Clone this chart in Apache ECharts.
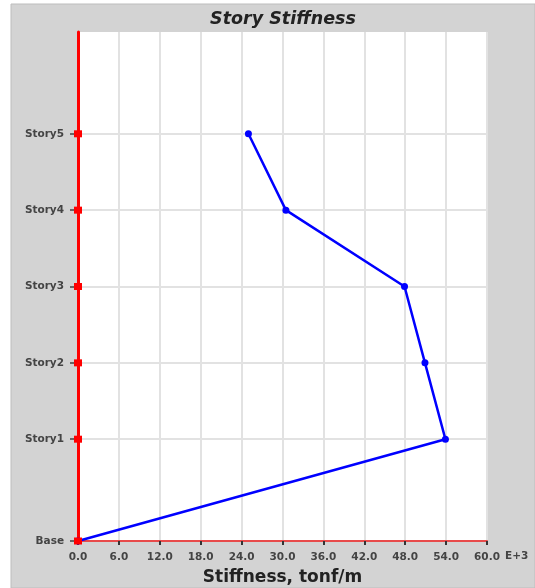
<!DOCTYPE html>
<html>
<head>
<meta charset="utf-8">
<title>Story Stiffness</title>
<script src="https://cdn.jsdelivr.net/npm/echarts@6/dist/echarts.min.js"></script>
<style>
  html, body { margin: 0; padding: 0; background: #fff; overflow: hidden; }
  #main { width: 535px; height: 588px; }
</style>
</head>
<body>
<div id="main"></div>
<script>
// story names and their elevations (m)
var stories = ['Base', 'Story1', 'Story2', 'Story3', 'Story4', 'Story5']
var levels = [0, 4, 7, 10, 13, 16]
// stiffness, E+3 tonf/m
var stiffness = [0, 53.9, 50.9, 47.9, 30.5, 25.0]
var xTicks = [0, 6, 12, 18, 24, 30, 36, 42, 48, 54, 60]

var chart = echarts.init(document.getElementById('main'))

var FONT = 'DejaVu Sans, Verdana, sans-serif'
var lineData = stiffness.map(function (v, i) { return [v, levels[i]] })
var axisPts = levels.map(function (l) { return [0, l] })

var option = {
  animation: false,
  textStyle: { fontFamily: FONT },
  graphic: [
    {
      type: 'rect',
      z: -10,
      silent: true,
      shape: { x: 11, y: 4, width: 524, height: 584 },
      style: { fill: '#d3d3d3', stroke: '#bdbdbd', lineWidth: 1 }
    },
    {
      type: 'rect',
      z: -9,
      silent: true,
      shape: { x: 78, y: 32, width: 409, height: 509 },
      style: { fill: '#ffffff' }
    },
    {
      type: 'text',
      left: 505,
      top: 551,
      style: { text: 'E+3', font: 'bold 10.5px ' + FONT, fill: '#444' }
    }
  ],
  title: {
    text: 'Story Stiffness',
    left: 278,
    textAlign: 'center',
    top: 5,
    textStyle: { fontSize: 17.5, fontWeight: 'bold', fontStyle: 'italic', color: '#222', fontFamily: FONT }
  },
  grid: { left: 78, right: 48, top: 32, bottom: 47, containLabel: false, outerBoundsMode: 'none' },
  xAxis: {
    type: 'value',
    min: 0,
    max: 60,
    interval: 6,
    name: 'Stiffness, tonf/m',
    nameLocation: 'middle',
    nameGap: 28,
    nameTextStyle: { fontSize: 17, fontWeight: 'bold', color: '#222', fontFamily: FONT },
    axisLine: { show: true, lineStyle: { color: '#e84a4a', width: 2 } },
    axisTick: { show: true, length: 4, lineStyle: { color: '#333', width: 2 } },
    axisLabel: {
      margin: 11,
      fontSize: 10.5,
      fontWeight: 'bold',
      color: '#444',
      fontFamily: FONT,
      formatter: function (v) { return v.toFixed(1) }
    },
    splitLine: { show: true, lineStyle: { color: '#e2e2e2', width: 2 } }
  },
  yAxis: {
    type: 'value',
    min: 0,
    max: 20,
    axisLine: { show: true, lineStyle: { color: '#ff0000', width: 3 } },
    axisTick: { show: true, length: 8, customValues: levels, lineStyle: { color: '#444', width: 1.5 } },
    axisLabel: {
      margin: 14,
      fontSize: 10.5,
      fontWeight: 'bold',
      color: '#444',
      fontFamily: FONT,
      customValues: levels,
      formatter: function (v) {
        var i = levels.indexOf(v)
        return i >= 0 ? stories[i] : ''
      }
    },
    splitLine: { show: false }
  },
  series: [
    {
      name: 'grid',
      type: 'line',
      data: [],
      silent: true,
      z: 1,
      markLine: {
        silent: true,
        z: 1,
        symbol: 'none',
        label: { show: false },
        lineStyle: { color: '#e2e2e2', width: 2, type: 'solid' },
        data: levels.slice(1).map(function (l) { return { yAxis: l } })
      }
    },
    {
      name: 'Stiffness',
      type: 'line',
      data: lineData,
      clip: false,
      symbol: 'circle',
      symbolSize: 7,
      showAllSymbol: true,
      lineStyle: { color: '#0000ff', width: 2.5 },
      itemStyle: { color: '#0000ff', borderWidth: 0 },
      z: 3
    },
    {
      name: 'levels',
      type: 'scatter',
      data: axisPts,
      clip: false,
      symbol: 'rect',
      symbolSize: [8, 7],
      itemStyle: { color: '#ff0000', opacity: 1 },
      z: 4
    }
  ]
}

chart.setOption(option)
</script>
</body>
</html>
